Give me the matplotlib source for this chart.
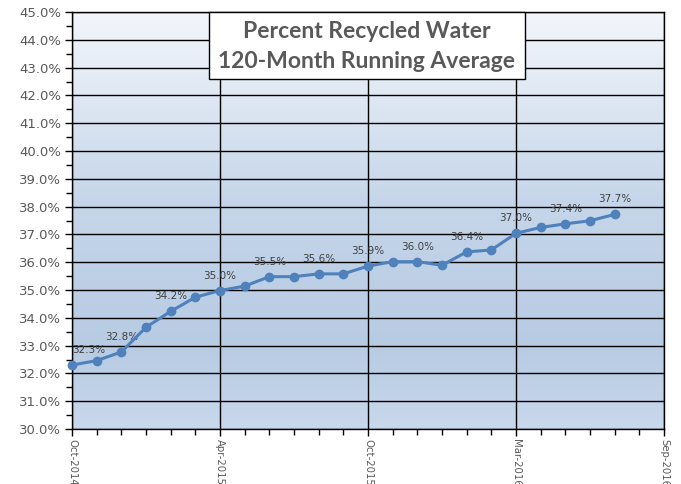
import matplotlib
matplotlib.use("Agg")
import matplotlib.pyplot as plt
import numpy as np
from matplotlib.colors import LinearSegmentedColormap
from matplotlib.patches import Rectangle
from matplotlib.ticker import FixedLocator, MultipleLocator, FuncFormatter

# ---- data ----
values = [32.30, 32.46, 32.77, 33.66, 34.23, 34.74, 34.98, 35.14, 35.48, 35.48,
          35.58, 35.58, 35.86, 36.02, 36.02, 35.89, 36.37, 36.44, 37.04, 37.25,
          37.38, 37.49, 37.72]
tick_labels = ["Oct-2014", "Apr-2015", "Oct-2015", "Mar-2016", "Sep-2016"]
tick_positions = [0, 6, 12, 18, 24]
label_every = 2
title_lines = ["Percent Recycled Water", "120-Month Running Average"]

plt.rcParams["font.family"] = ["DejaVu Sans"]

W, H = 681, 484
fig = plt.figure(figsize=(W/100, H/100), dpi=100)
ax = fig.add_axes([72/W, 1-429/H, (664-72)/W, (429-12)/H])

x = np.arange(len(values))
ax.set_xlim(0, 24)
ax.set_ylim(30, 45)

# gradient background
cmap = LinearSegmentedColormap.from_list(
    "bg", [(0.0, "#c9d8ec"), (0.2, "#b7cbe3"), (0.55, "#c6d6ea"), (1.0, "#f3f6fb")])
grad = np.linspace(0, 1, 256).reshape(-1, 1)
ax.imshow(grad, aspect="auto", cmap=cmap, origin="lower",
          extent=[0, 24, 30, 45], zorder=0)

# grid
ax.yaxis.set_major_locator(MultipleLocator(1))
ax.yaxis.set_minor_locator(MultipleLocator(0.5))
ax.xaxis.set_major_locator(FixedLocator(tick_positions))
ax.xaxis.set_minor_locator(MultipleLocator(1))
ax.grid(True, which="major", color="black", linewidth=1.0, zorder=1)
for gl in ax.get_xgridlines() + ax.get_ygridlines():
    gl.set_zorder(1)

ax.yaxis.set_major_formatter(FuncFormatter(lambda v, p: f"{v:.1f}%"))
ax.set_xticklabels(tick_labels, rotation=-90, va="top", ha="center")

ax.tick_params(axis="both", which="major", direction="out", color="black",
               length=5, width=1)
ax.tick_params(axis="both", which="minor", direction="out", color="black",
               length=4, width=1)
ax.tick_params(axis="y", labelsize=9.5, labelcolor="#595959", pad=3)
ax.tick_params(axis="x", labelsize=7.3, labelcolor="#595959", pad=2)
for s in ax.spines.values():
    s.set_color("black")
    s.set_linewidth(1.0)
    s.set_zorder(2)

ax.plot(x, values, color="#4f81bd", linewidth=2.2, marker="o", markersize=6,
        zorder=4, clip_on=False)

for i in range(0, len(values), label_every):
    dx, ha = (0, "center")
    if i == 0:
        dx, ha = (0, "left")
    ax.annotate(f"{values[i]:.1f}%", (x[i], values[i]), xytext=(dx, 15),
                textcoords="offset pixels", ha=ha, va="center",
                fontsize=7.5, color="#404040", zorder=3)

# title box
fig.add_artist(Rectangle((209/W, 1-79/H), (525-209)/W, (79-12)/H,
                         transform=fig.transFigure, facecolor="white",
                         edgecolor="black", linewidth=1.0, zorder=9))
fig.text(367/W, 1-32/H, title_lines[0], ha="center", va="center",
         fontsize=16.5, fontweight="bold", color="#595959", family="Lato",
         zorder=10)
fig.text(367/W, 1-62/H, title_lines[1], ha="center", va="center",
         fontsize=16.5, fontweight="bold", color="#595959", family="Lato",
         zorder=10)

fig.savefig("out.png", dpi=100)
